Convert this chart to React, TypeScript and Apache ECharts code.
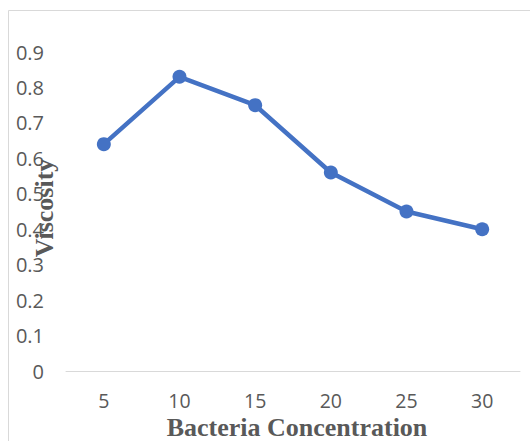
import React, { useEffect, useRef } from "react";
import * as echarts from "echarts";

const categories = ["5", "10", "15", "20", "25", "30"];
const viscosity = [0.64, 0.83, 0.75, 0.56, 0.45, 0.4];
const xTitle = "Bacteria Concentration";
const yTitle = "Viscosity";

export default function App() {
  const ref = useRef<HTMLDivElement>(null);
  useEffect(() => {
    const chart = echarts.init(ref.current!, null, { renderer: "svg" });
    chart.setOption({
      animation: false,
      backgroundColor: "#ffffff",
      grid: { left: 66, right: 10, top: 52, bottom: 70, containLabel: false, outerBoundsMode: "none" },
      xAxis: {
        type: "category",
        data: categories,
        boundaryGap: true,
        axisLine: { show: true, lineStyle: { color: "#d9d9d9", width: 1 } },
        axisTick: { show: false },
        axisLabel: { color: "#595959", fontSize: 19.5, fontFamily: "Open Sans", margin: 19 },
      },
      yAxis: {
        type: "value",
        min: 0,
        max: 0.9,
        interval: 0.1,
        axisLine: { show: false },
        axisTick: { show: false },
        splitLine: { show: false },
        axisLabel: {
          color: "#595959",
          fontSize: 20,
          fontFamily: "Open Sans",
          margin: 22,
          formatter: (v: number) => (Math.round(v * 10) / 10).toString(),
        },
      },
      graphic: [
        {
          type: "rect",
          shape: { x: 8.5, y: 10.5, width: 600, height: 600 },
          style: { fill: "none", stroke: "#d9d9d9", lineWidth: 1 },
          silent: true,
          z: -1,
        },
        {
          type: "text",
          x: 44,
          y: 208,
          rotation: Math.PI / 2,
          style: {
            text: yTitle,
            fill: "#595959",
            font: "bold 26px 'Liberation Serif'",
            textAlign: "center",
            textVerticalAlign: "middle",
          },
        },
        {
          type: "text",
          x: 297,
          y: 427,
          style: {
            text: xTitle,
            fill: "#595959",
            font: "bold 26px 'Liberation Serif'",
            textAlign: "center",
            textVerticalAlign: "middle",
          },
        },
      ],
      series: [
        {
          type: "line",
          data: viscosity,
          symbol: "circle",
          symbolSize: 14,
          lineStyle: { color: "#4472C4", width: 4.5 },
          itemStyle: { color: "#4472C4" },
        },
      ],
    });
    return () => chart.dispose();
  }, []);
  return (
    <div
      ref={ref}
      style={{ position: "absolute", left: 0, top: 0, width: 530, height: 441 }}
    />
  );
}
